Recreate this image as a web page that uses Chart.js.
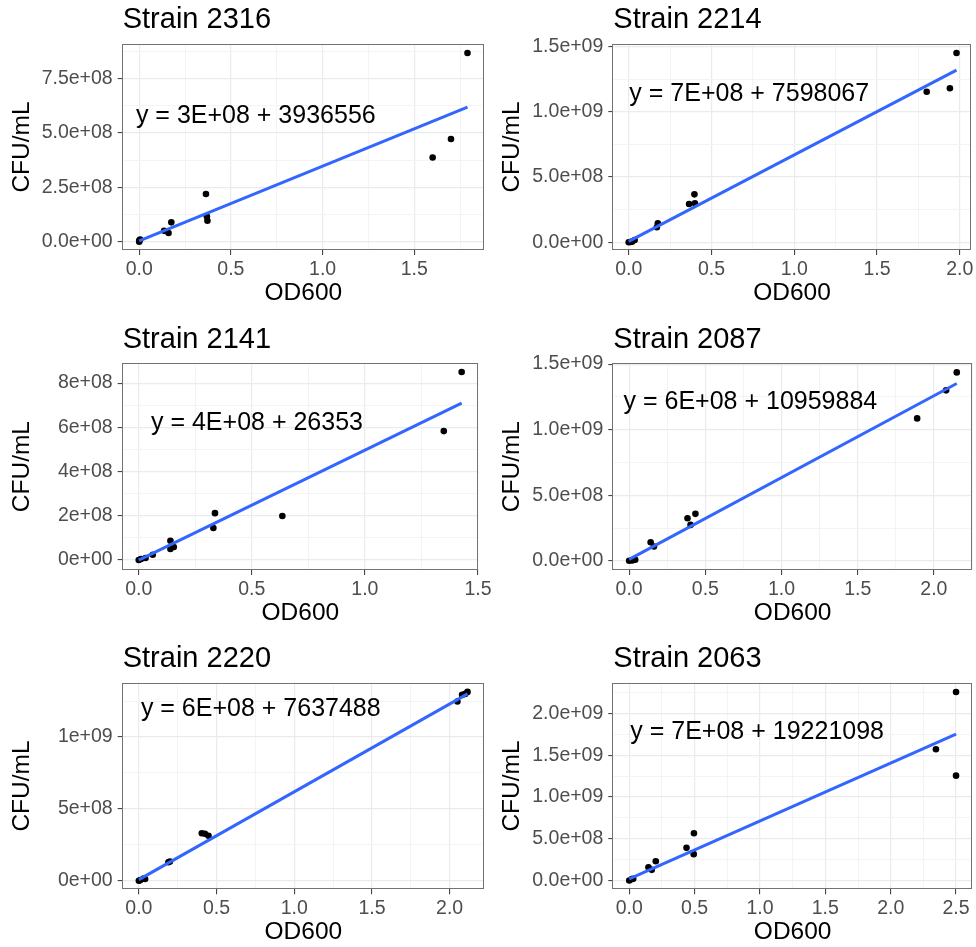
<!DOCTYPE html>
<html>
<head>
<meta charset="utf-8">
<script src="https://cdn.jsdelivr.net/npm/chart.js@4.4.1/dist/chart.umd.min.js"></script>
<style>
  html, body { margin: 0; padding: 0; background: #ffffff; }
  #page { position: relative; width: 976px; height: 947px; overflow: hidden; background: #ffffff; }
  #page canvas { position: absolute; }
</style>
</head>
<body>
<div id="page"></div>
<script>
// panel titles, read left to right, top to bottom
const strains = ['Strain 2316', 'Strain 2214', 'Strain 2141', 'Strain 2087', 'Strain 2220', 'Strain 2063'];

// OD600 / CFU per mL readings for each strain
const od2316 = [0, 0, 0.005, 0.136, 0.16, 0.175, 0.364, 0.369, 0.372, 1.60, 1.70, 1.79];
const cfu2316 = [0, 0.05e8, 0.1e8, 0.5e8, 0.4e8, 0.89e8, 2.19e8, 1.16e8, 0.96e8, 3.87e8, 4.72e8, 8.67e8];

const od2214 = [0, 0.01, 0.02, 0.036, 0.17, 0.176, 0.365, 0.397, 0.40, 1.80, 1.94, 1.98];
const cfu2214 = [0, 0.02e8, 0.05e8, 0.18e8, 1.15e8, 1.45e8, 2.93e8, 3.67e8, 2.98e8, 1.153e9, 1.179e9, 1.449e9];

const od2141 = [0, 0.01, 0.03, 0.062, 0.14, 0.14, 0.155, 0.33, 0.337, 0.635, 1.349, 1.428];
const cfu2141 = [0, 0.05e8, 0.09e8, 0.24e8, 0.87e8, 0.5e8, 0.59e8, 1.45e8, 2.12e8, 1.99e8, 5.83e8, 8.5e8];

const od2087 = [0, 0.02, 0.04, 0.141, 0.163, 0.383, 0.403, 0.435, 1.89, 2.08, 2.15];
const cfu2087 = [0, 0.03e8, 0.08e8, 1.42e8, 1.09e8, 3.25e8, 2.74e8, 3.58e8, 1.086e9, 1.30e9, 1.437e9];

const od2220 = [0, 0.01, 0.03, 0.04, 0.19, 0.20, 0.405, 0.425, 0.448, 2.05, 2.08, 2.10, 2.115];
const cfu2220 = [0, 0.04e8, 0.14e8, 0.12e8, 1.28e8, 1.33e8, 3.3e8, 3.27e8, 3.13e8, 1.247e9, 1.293e9, 1.30e9, 1.314e9];

const od2063 = [0, 0.02, 0.03, 0.147, 0.172, 0.203, 0.438, 0.493, 0.495, 2.346, 2.5, 2.5];
const cfu2063 = [0, 0.17e8, 0.2e8, 1.6e8, 1.28e8, 2.32e8, 3.92e8, 3.16e8, 5.67e8, 1.573e9, 2.26e9, 1.257e9];

const odValues = [od2316, od2214, od2141, od2087, od2220, od2063];
const cfuValues = [cfu2316, cfu2214, cfu2141, cfu2087, cfu2220, cfu2063];

// fitted lines (slope, intercept from the label)
const fitSlopes = [3.43e8, 6.62e8, 4.97e8, 6.24e8, 6.11e8, 6.94e8];
const fitIntercepts = [3936556, 7598067, 26353, 10959884, 7637488, 19221098];
const equations = [
    'y = 3E+08 + 3936556',
    'y = 7E+08 + 7598067',
    'y = 4E+08 + 26353',
    'y = 6E+08 + 10959884',
    'y = 6E+08 + 7637488',
    'y = 7E+08 + 19221098'
];

// axes
const xTicks = [[0, 0.5, 1, 1.5], [0, 0.5, 1, 1.5, 2], [0, 0.5, 1, 1.5], [0, 0.5, 1, 1.5, 2], [0, 0.5, 1, 1.5, 2], [0, 0.5, 1, 1.5, 2, 2.5]];
const xTickLabels = [
    ['0.0', '0.5', '1.0', '1.5'],
    ['0.0', '0.5', '1.0', '1.5', '2.0'],
    ['0.0', '0.5', '1.0', '1.5'],
    ['0.0', '0.5', '1.0', '1.5', '2.0'],
    ['0.0', '0.5', '1.0', '1.5', '2.0'],
    ['0.0', '0.5', '1.0', '1.5', '2.0', '2.5']
];
const yTicks = [
    [0, 2.5e8, 5e8, 7.5e8],
    [0, 5e8, 1e9, 1.5e9],
    [0, 2e8, 4e8, 6e8, 8e8],
    [0, 5e8, 1e9, 1.5e9],
    [0, 5e8, 1e9],
    [0, 5e8, 1e9, 1.5e9, 2e9]
];
const yTickLabels = [
    ['0.0e+00', '2.5e+08', '5.0e+08', '7.5e+08'],
    ['0.0e+00', '5.0e+08', '1.0e+09', '1.5e+09'],
    ['0e+00', '2e+08', '4e+08', '6e+08', '8e+08'],
    ['0.0e+00', '5.0e+08', '1.0e+09', '1.5e+09'],
    ['0e+00', '5e+08', '1e+09'],
    ['0.0e+00', '5.0e+08', '1.0e+09', '1.5e+09', '2.0e+09']
];
const xLimits = [[-0.09, 1.88], [-0.093, 2.066], [-0.071, 1.5], [-0.104, 2.25], [-0.104, 2.221], [-0.122, 2.622]];
const yLimits = [[-0.38e8, 9.08e8], [-0.059e9, 1.518e9], [-0.45e8, 8.9e8], [-0.07e9, 1.507e9], [-0.06e9, 1.378e9], [-0.105e9, 2.371e9]];

// where each equation sits (data units, left end of the text baseline)
const equationAt = [[-0.018, 5.45e8], [0.004, 1.084e9], [0.054, 5.86e8], [-0.037, 1.155e9], [0.013, 1.146e9], [0.008, 1.693e9]];

// page layout
const FONT = '"Liberation Sans", Arial, Helvetica, sans-serif';
const columns = [
    { left: 0, width: 494, plotLeft: 122.7, plotRight: 484, yTitleX: 22.3 },
    { left: 494, width: 482, plotLeft: 613.3, plotRight: 972.5, yTitleX: 17.75 }
];
const rows = [
    { top: 0, height: 315, plotTop: 44, plotBottom: 250 },
    { top: 315, height: 317, plotTop: 363.2, plotBottom: 570 },
    { top: 632, height: 315, plotTop: 682.7, plotBottom: 889.3 }
];

Chart.defaults.font.family = FONT;

function withMinor(majors, min, max) {
    const step = majors[1] - majors[0];
    const ticks = majors.map(value => ({ value }));
    for (let k = Math.floor(min / step) - 1; k <= Math.ceil(max / step); k++) {
        const v = (k + 0.5) * step;
        if (v >= min && v <= max) ticks.push({ value: v, isMinor: true });
    }
    return ticks.sort((a, b) => a.value - b.value);
}

const gridStyle = {
    color: ctx => (ctx.tick && ctx.tick.isMinor ? '#f4f4f4' : '#ebebeb'),
    lineWidth: ctx => (ctx.tick && ctx.tick.isMinor ? 1 : 1.2),
    tickColor: ctx => (ctx.tick && ctx.tick.isMinor ? 'rgba(0,0,0,0)' : '#333333'),
    tickLength: 5,
    tickWidth: 1
};

const panelDecor = {
    id: 'panelDecor',
    afterDatasetsDraw(chart, args, opts) {
        const { ctx, chartArea: a, scales } = chart;
        ctx.save();
        ctx.fillStyle = '#000000';
        ctx.textAlign = 'left';
        ctx.textBaseline = 'alphabetic';
        ctx.font = `25px ${FONT}`;
        ctx.fillText(opts.equation, scales.x.getPixelForValue(opts.at[0]), scales.y.getPixelForValue(opts.at[1]));
        ctx.strokeStyle = '#737373';
        ctx.lineWidth = 1;
        const l = Math.round(a.left) - 0.5, t = Math.round(a.top) + 0.5;
        ctx.strokeRect(l, t, Math.round(a.right) - 0.5 - l, Math.round(a.bottom) - 0.5 - t);
        ctx.font = `29px ${FONT}`;
        ctx.fillText(opts.title, a.left, a.top - 15.7);
        ctx.restore();
    }
};

const page = document.getElementById('page');

strains.forEach((name, i) => {
    const col = columns[i % 2];
    const row = rows[Math.floor(i / 2)];
    const canvas = document.createElement('canvas');
    canvas.width = col.width;
    canvas.height = row.height;
    canvas.style.left = col.left + 'px';
    canvas.style.top = row.top + 'px';
    page.appendChild(canvas);

    const xs = odValues[i];
    const ys = cfuValues[i];
    const points = xs.map((x, k) => ({ x, y: ys[k] }));
    const x0 = Math.min(...xs), x1 = Math.max(...xs);
    const fit = [x0, x1].map(x => ({ x, y: fitSlopes[i] * x + fitIntercepts[i] }));
    const xAxisHeight = row.top + row.height - row.plotBottom;

    new Chart(canvas.getContext('2d'), {
        type: 'scatter',
        data: {
            datasets: [
                {
                    type: 'line',
                    data: fit,
                    borderColor: '#3366FF',
                    borderWidth: 3,
                    pointRadius: 0,
                    fill: false,
                    order: 0
                },
                {
                    data: points,
                    backgroundColor: '#000000',
                    borderWidth: 0,
                    pointRadius: 3.3,
                    order: 1
                }
            ]
        },
        options: {
            responsive: false,
            animation: false,
            events: [],
            layout: {
                padding: {
                    left: 0,
                    top: row.plotTop - row.top,
                    right: col.left + col.width - col.plotRight,
                    bottom: 0
                }
            },
            plugins: {
                legend: { display: false },
                tooltip: { enabled: false },
                panelDecor: { title: name, equation: equations[i], at: equationAt[i] }
            },
            scales: {
                x: {
                    type: 'linear',
                    position: 'bottom',
                    min: xLimits[i][0],
                    max: xLimits[i][1],
                    afterBuildTicks: axis => { axis.ticks = withMinor(xTicks[i], xLimits[i][0], xLimits[i][1]); },
                    afterFit: axis => { axis.height = xAxisHeight; },
                    grid: gridStyle,
                    border: { display: false },
                    ticks: {
                        autoSkip: false,
                        maxRotation: 0,
                        padding: 2.5,
                        color: '#4d4d4d',
                        font: { size: 19.5 },
                        callback: value => {
                            const k = xTicks[i].indexOf(value);
                            return k < 0 ? '' : xTickLabels[i][k];
                        }
                    },
                    title: {
                        display: true,
                        text: 'OD600',
                        color: '#000000',
                        font: { size: 24.5 },
                        padding: { top: 0, bottom: xAxisHeight - 43.2 - 14.7 }
                    }
                },
                y: {
                    type: 'linear',
                    position: 'left',
                    min: yLimits[i][0],
                    max: yLimits[i][1],
                    afterBuildTicks: axis => { axis.ticks = withMinor(yTicks[i], yLimits[i][0], yLimits[i][1]); },
                    afterFit: axis => { axis.width = col.plotLeft - col.left; },
                    grid: gridStyle,
                    border: { display: false },
                    ticks: {
                        autoSkip: false,
                        padding: 5,
                        color: '#4d4d4d',
                        font: { size: 19.5 },
                        callback: value => {
                            const k = yTicks[i].indexOf(value);
                            return k < 0 ? '' : yTickLabels[i][k];
                        }
                    },
                    title: {
                        display: true,
                        text: 'CFU/mL',
                        color: '#000000',
                        font: { size: 24.5 },
                        padding: { top: col.yTitleX - 14.7, bottom: 0 }
                    }
                }
            }
        },
        plugins: [panelDecor]
    });
});
</script>
</body>
</html>
